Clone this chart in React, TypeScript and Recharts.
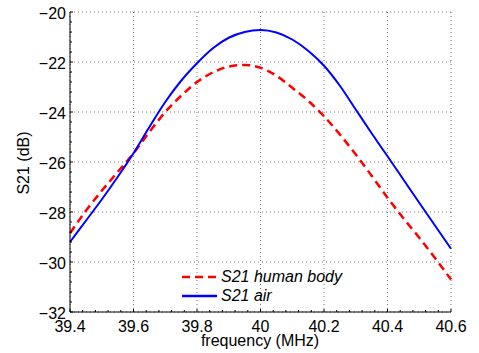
import { LineChart, Line, XAxis, YAxis, CartesianGrid } from 'recharts'

const freq = [39.4, 39.45, 39.5, 39.55, 39.6, 39.65, 39.7, 39.75, 39.8, 39.85, 39.9, 39.95, 40.0, 40.05, 40.1, 40.15, 40.2, 40.25, 40.3, 40.35, 40.4, 40.45, 40.5, 40.55, 40.6]
const humanBody = [-28.85, -27.95, -27.15, -26.4, -25.65, -24.8, -24.0, -23.35, -22.8, -22.42, -22.18, -22.12, -22.23, -22.55, -23.03, -23.55, -24.17, -24.9, -25.7, -26.55, -27.43, -28.25, -29.03, -29.85, -30.7]
const air = [-29.2, -28.35, -27.5, -26.6, -25.65, -24.6, -23.6, -22.75, -22.05, -21.45, -21.03, -20.8, -20.72, -20.82, -21.1, -21.55, -22.15, -22.95, -23.9, -24.85, -25.77, -26.7, -27.63, -28.55, -29.47]

const xMajor = [39.4, 39.6, 39.8, 40, 40.2, 40.4, 40.6]
const yMajor = [-32, -30, -28, -26, -24, -22, -20]

const seriesNames = ['S21 human body', 'S21 air']

const font = '"Liberation Sans", Arial, Helvetica, sans-serif'
const ink = '#000'
const red = '#ff0000', blue = '#0000ff'

// minor ticks: 5 steps between major ticks
const minors = (majors: number[]) => {
  const out: number[] = []
  for (let i = 0; i < majors.length - 1; i++) {
    const step = (majors[i + 1] - majors[i]) / 5
    for (let k = 0; k < 5; k++) out.push(+(majors[i] + k * step).toFixed(3))
  }
  out.push(majors[majors.length - 1])
  return out
}
const xTicks = minors(xMajor)
const yTicks = minors(yMajor)
const isMajor = (list: number[], v: number) => list.some(m => Math.abs(m - v) < 1e-6)

const data = freq.map((f, i) => ({ f, body: humanBody[i], air: air[i] }))

const fmt = (v: number) => (v < 0 ? '\u2212' + String(-v) : String(v))

// eslint-disable-next-line @typescript-eslint/no-explicit-any
const XTick = (p: any) => {
  const v = p.payload.value
  const major = isMajor(xMajor, v)
  return (
    <g>
      <line x1={p.x} x2={p.x} y1={p.y} y2={p.y - (major ? 3 : 2)} stroke={ink} strokeWidth={1} />
      {major && (
        <text x={p.x} y={p.y + 20} textAnchor="middle" fontSize={16} fontFamily={font} fill={ink}>{fmt(v)}</text>
      )}
    </g>
  )
}

// eslint-disable-next-line @typescript-eslint/no-explicit-any
const YTick = (p: any) => {
  const v = p.payload.value
  const major = isMajor(yMajor, v)
  return (
    <g>
      <line x1={p.x} x2={p.x + (major ? 3 : 2)} y1={p.y} y2={p.y} stroke={ink} strokeWidth={1} />
      {major && (
        <text x={p.x - 4} y={p.y + 7} textAnchor="end" fontSize={16} fontFamily={font} fill={ink}>{fmt(v)}</text>
      )}
    </g>
  )
}

export default function App() {
  return (
    <div style={{ position: 'absolute', left: 0, top: 0, width: 479, height: 353, background: '#fff' }}>
      <LineChart width={479} height={353} data={data} margin={{ top: 12, right: 28, left: 0, bottom: 0 }}>
        <CartesianGrid horizontal vertical horizontalValues={yMajor} verticalValues={xMajor} stroke="#777" strokeDasharray="1 3" />
        <XAxis
          dataKey="f" type="number" domain={[39.4, 40.6]} ticks={xTicks} interval={0}
          height={41} tickSize={0} tickMargin={0} tickLine={false} tick={XTick}
          axisLine={{ stroke: ink, strokeWidth: 1 }}
          label={() => (
            <text x={260} y={346} textAnchor="middle" fontSize={16} fontFamily={font} fill={ink}>frequency (MHz)</text>
          )}
        />
        <YAxis
          type="number" domain={[-32, -20]} ticks={yTicks} interval={0}
          width={70} tickSize={0} tickMargin={0} tickLine={false} tick={YTick}
          axisLine={{ stroke: ink, strokeWidth: 1 }}
          label={() => (
            <text x={29} y={163} transform="rotate(-90 29 163)" textAnchor="middle" fontSize={16} fontFamily={font} fill={ink}>S21 (dB)</text>
          )}
        />
        <Line dataKey="body" type="monotone" stroke={red} strokeWidth={2.5} strokeDasharray="8 5" dot={false} isAnimationActive={false} />
        <Line dataKey="air" type="monotone" stroke={blue} strokeWidth={2} dot={false} isAnimationActive={false} />
      </LineChart>
      {/* legend */}
      <div style={{ position: 'absolute', left: 182, top: 267, fontFamily: font, fontSize: 16, fontStyle: 'italic', color: ink }}>
        {[{ label: seriesNames[0], color: red, dash: '8 5' }, { label: seriesNames[1], color: blue, dash: undefined }].map(l => (
          <div key={l.label} style={{ display: 'flex', alignItems: 'center', height: 19 }}>
            <svg width={35} height={6} style={{ marginRight: 4 }}>
              <line x1={0} x2={35} y1={3} y2={3} stroke={l.color} strokeWidth={2.5} strokeDasharray={l.dash} />
            </svg>
            {l.label}
          </div>
        ))}
      </div>
    </div>
  )
}
